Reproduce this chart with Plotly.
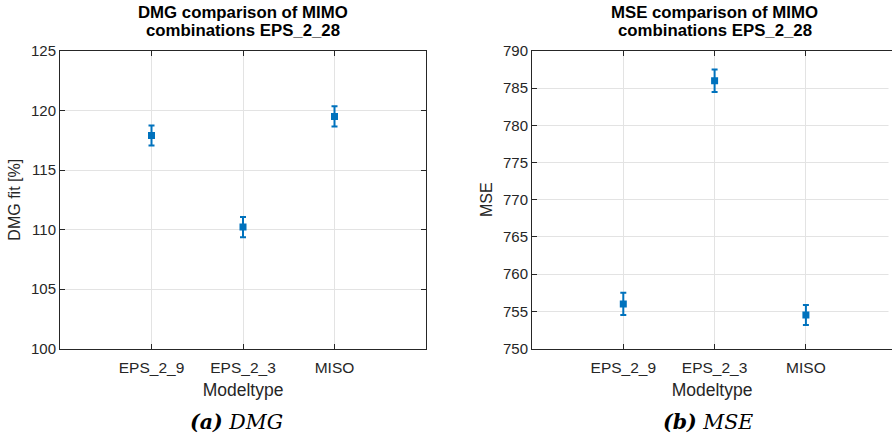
import plotly.graph_objects as go

categories = ["EPS_2_9", "EPS_2_3", "MISO"]
cat_pos = [1, 2, 3]
dmg_values = [117.9, 110.2, 119.5]
dmg_err = [0.85, 0.85, 0.85]
mse_values = [756.0, 786.0, 754.5]
mse_err = [1.5, 1.5, 1.35]

dmg_ticks = [100, 105, 110, 115, 120, 125]
mse_ticks = [750, 755, 760, 765, 770, 775, 780, 785, 790]

blue = "#0072BD"
axis_col = "#262626"
grid_col = "#e3e3e3"
font_sans = "Liberation Sans, Arial, sans-serif"

W, H = 892, 435
ydom = [1 - 348.5 / H, 1 - 51 / H]

fig = go.Figure()
fig.add_trace(go.Scatter(
    x=cat_pos, y=dmg_values, mode="markers",
    marker=dict(symbol="square", size=7, color=blue),
    error_y=dict(type="data", array=dmg_err, thickness=2, width=3, color=blue),
    xaxis="x", yaxis="y", showlegend=False))
fig.add_trace(go.Scatter(
    x=cat_pos, y=mse_values, mode="markers",
    marker=dict(symbol="square", size=7, color=blue),
    error_y=dict(type="data", array=mse_err, thickness=2, width=3, color=blue),
    xaxis="x2", yaxis="y2", showlegend=False))

common_x = dict(
    tickmode="array", tickvals=cat_pos, ticktext=categories,
    showgrid=True, gridcolor=grid_col, gridwidth=1,
    linecolor=axis_col, linewidth=1,
    ticks="inside", ticklen=5, tickcolor=axis_col,
    tickfont=dict(family=font_sans, size=15.5, color=axis_col),
    ticklabelstandoff=5,
    zeroline=False, automargin=False,
    title=dict(text="Modeltype", font=dict(family=font_sans, size=17.5, color=axis_col), standoff=8),
)
common_y = dict(
    showgrid=True, gridcolor=grid_col, gridwidth=1,
    linecolor=axis_col, linewidth=1,
    ticks="inside", ticklen=5, tickcolor=axis_col,
    tickfont=dict(family=font_sans, size=15, color=axis_col),
    zeroline=False, automargin=False,
)

x1dom = [60 / W, 426 / W]
x2dom = [532 / W, 1.0]

frame = dict(color=axis_col, width=1)
fig.update_layout(
    width=W, height=H,
    margin=dict(l=0, r=0, t=0, b=0),
    plot_bgcolor="white", paper_bgcolor="white",
    xaxis=dict(common_x, domain=x1dom, range=[0, 4], showline=True, mirror="ticks", anchor="y"),
    yaxis=dict(common_y, domain=ydom, range=[100, 125], tickvals=dmg_ticks,
               showline=True, mirror="ticks", anchor="x",
               title=dict(text="DMG fit [%]", font=dict(family=font_sans, size=16, color=axis_col), standoff=6)),
    xaxis2=dict(common_x, domain=x2dom, range=[0, (W - 532) / 91.3], showline=True, mirror="ticks",
                anchor="y2"),
    yaxis2=dict(common_y, domain=ydom, range=[750, 790], tickvals=mse_ticks,
                showline=True, mirror=False, anchor="x2",
                title=dict(text="MSE", font=dict(family=font_sans, size=16, color=axis_col), standoff=6)),
    shapes=[
        # mask the right border of the clipped second panel (off-screen in the reference)
        dict(type="rect", xref="paper", yref="paper", x0=(W - 3.5) / W, x1=1.0,
             y0=ydom[0] + 1.5 / H, y1=ydom[1] - 1.5 / H,
             line=dict(width=0), fillcolor="white", layer="above"),
    ],
)

c1 = (x1dom[0] + x1dom[1]) / 2
c2 = (532 + 532 + 365) / 2 / W
ann = []
for cx, l1 in [(c1, "DMG comparison of MIMO"), (c2, "MSE comparison of MIMO")]:
    ann.append(dict(text="<b>" + l1 + "</b>", x=cx, y=1 - 12.5 / H, xref="paper", yref="paper",
                    showarrow=False, xanchor="center", yanchor="middle",
                    font=dict(family=font_sans, size=16.8, color="black")))
    ann.append(dict(text="<b>combinations EPS_2_28</b>", x=cx, y=1 - 31 / H, xref="paper", yref="paper",
                    showarrow=False, xanchor="center", yanchor="middle",
                    font=dict(family=font_sans, size=16.8, color="black")))
ann.append(dict(text="<b><i>(a)</i></b> <i>DMG</i>", x=236.5 / W, y=1 - 422 / H,
                xref="paper", yref="paper", showarrow=False, xanchor="center", yanchor="middle",
                font=dict(family="DejaVu Serif, serif", size=20.5, color="black")))
ann.append(dict(text="<b><i>(b)</i></b> <i>MSE</i>", x=707.5 / W, y=1 - 422 / H,
                xref="paper", yref="paper", showarrow=False, xanchor="center", yanchor="middle",
                font=dict(family="DejaVu Serif, serif", size=20.5, color="black")))
fig.update_layout(annotations=ann)

fig.write_html("out.html")
